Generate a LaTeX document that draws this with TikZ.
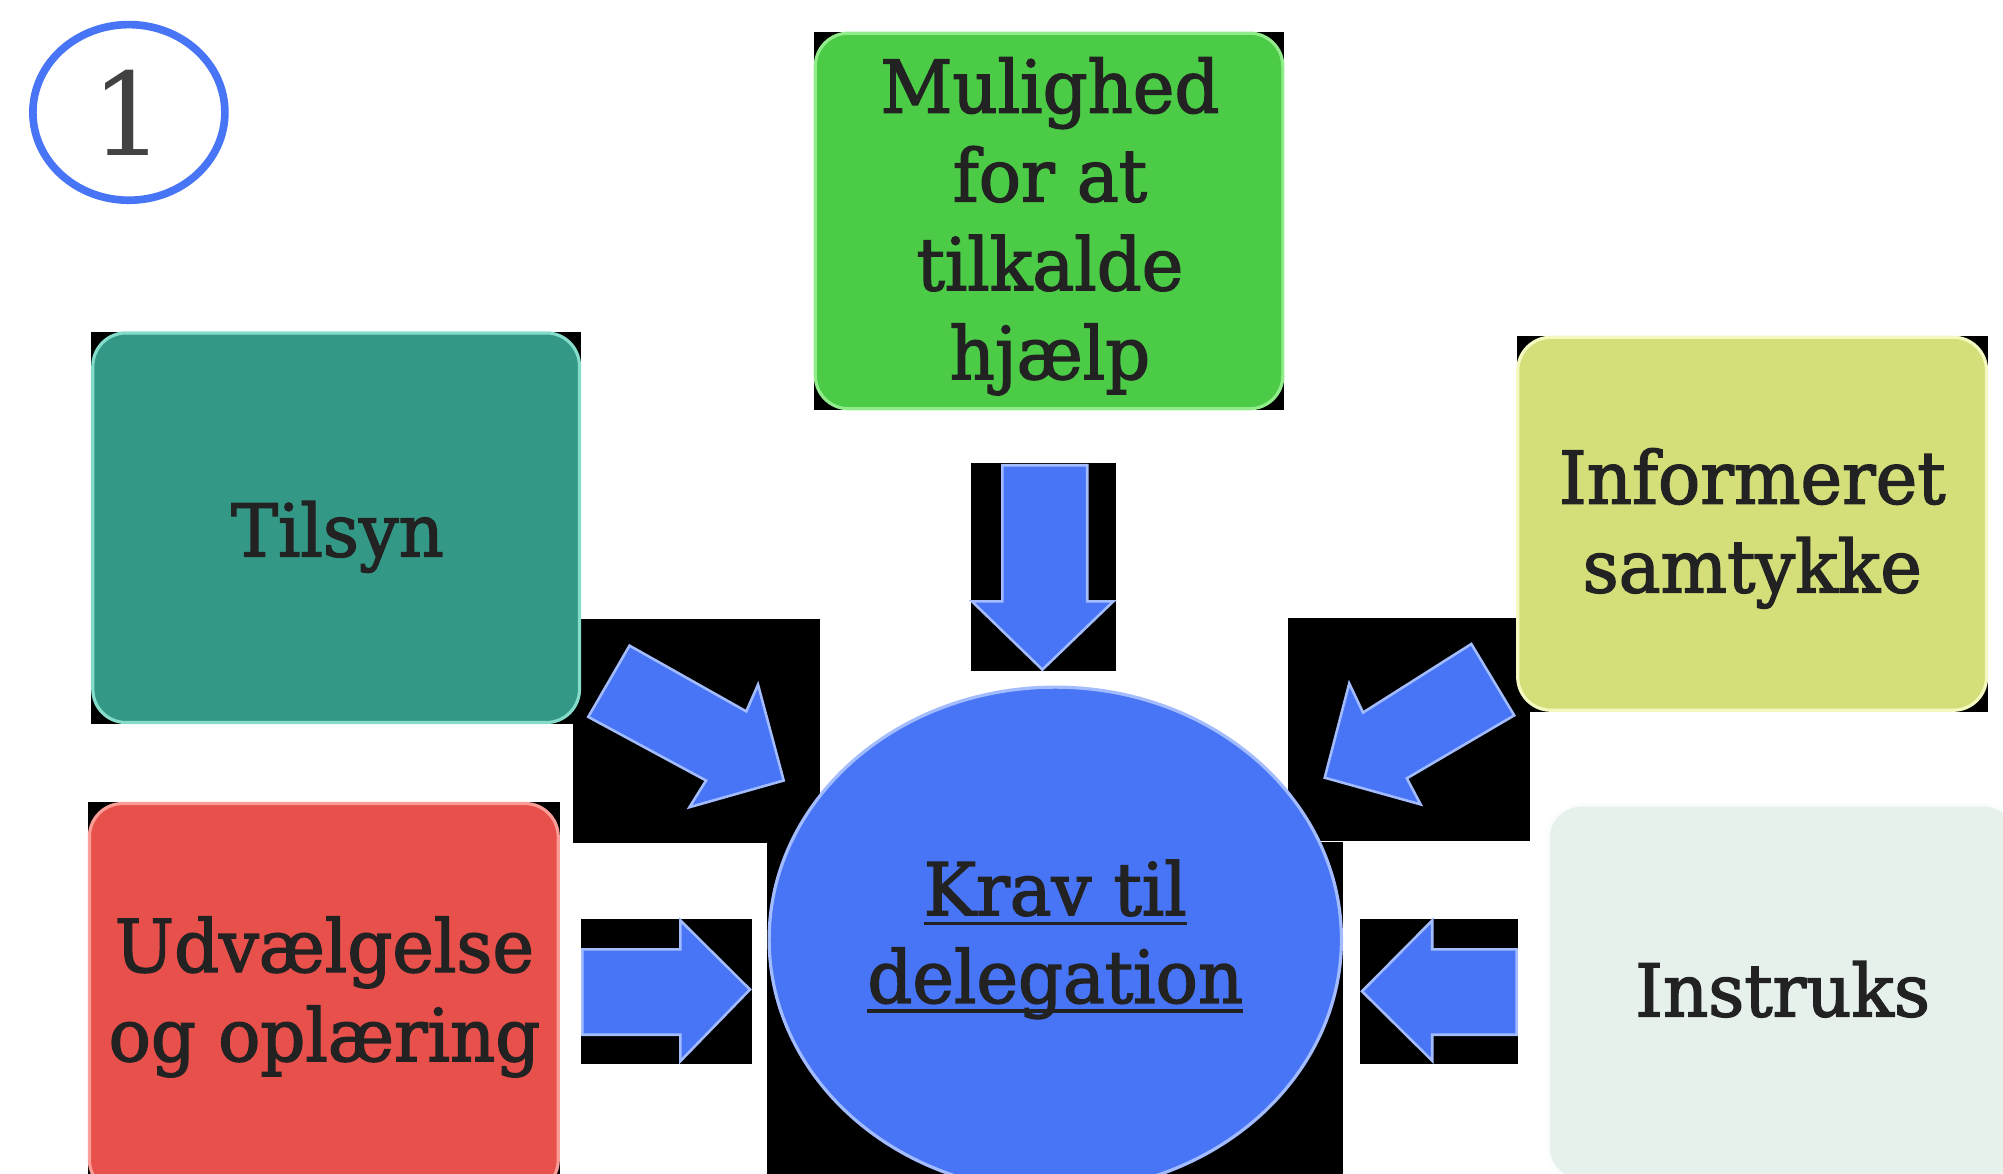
\documentclass[tikz,border=0pt]{standalone}
\usepackage{fontspec}
\setmainfont{DejaVu Serif}
\newfontfamily\labelfont[FakeStretch=0.965,FakeBold=2]{DejaVu Serif}
\usetikzlibrary{shapes.geometric}
\definecolor{arrowblue}{HTML}{4875F5}
\definecolor{rimblue}{HTML}{A3BCFF}
\definecolor{boxgreen}{HTML}{4BCB46}
\definecolor{rimgreen}{HTML}{93EC8C}
\definecolor{boxteal}{HTML}{339886}
\definecolor{rimteal}{HTML}{86DCCB}
\definecolor{boxolive}{HTML}{D4DF7A}
\definecolor{rimolive}{HTML}{F4F9C0}
\definecolor{boxred}{HTML}{E8504B}
\definecolor{rimred}{HTML}{FA9D97}
\definecolor{boxpale}{HTML}{E7F1EB}
\definecolor{rimpale}{HTML}{FBFDFC}
\definecolor{txt}{HTML}{222222}
\definecolor{numgray}{HTML}{424242}
\newcommand\myul[1]{\setbox0=\hbox{#1}\leavevmode\rlap{\rule[-7.7pt]{\wd0}{2.6pt}}\copy0}
\begin{document}
\begin{tikzpicture}[x=1pt,y=-1pt,
  backing/.style={fill=black},
  card/.style={rectangle, rounded corners=26pt, inner sep=0pt, outer sep=0pt, line width=2.5pt},
  label/.style={text=txt, inner sep=0pt, align=center, font=\labelfont\fontsize{57}{69.5}\selectfont},
  blockarrow/.style={fill=arrowblue, draw=rimblue, line width=2pt, line join=miter}]
\useasboundingbox (0,0) rectangle (1568,919);
\clip (0,0) rectangle (1568,919);
\fill[white] (0,0) rectangle (1568,919);

% black backing rectangles
\fill[backing] (637.2,25.1) rectangle (1005.3,320.8);
\fill[backing] (760.2,362.4) rectangle (873.6,525.3);
\fill[backing] (71.3,259.7) rectangle (455,566.5);
\fill[backing] (448.7,484.3) rectangle (641.9,660);
\fill[backing] (1008.3,484) rectangle (1197.7,658.2);
\fill[backing] (600.7,659) rectangle (1051.5,919);
\fill[backing] (455,719.2) rectangle (589,832.7);
\fill[backing] (1064.5,719.2) rectangle (1188.3,832.6);
\fill[backing] (1187.2,263) rectangle (1556,557);
\fill[backing] (69,628) rectangle (438,919);

% number badge
\node[ellipse, draw=arrowblue, line width=6pt, minimum width=150.3pt, minimum height=137.5pt, inner sep=0pt,
      text=numgray, font=\fontsize{90}{100}\selectfont] (badge) at (100.9,88) {\kern-1pt 1};

% boxes
\node[card, fill=boxgreen, draw=rimgreen, minimum width=366pt, minimum height=294pt] (help) at (821.25,172.95) {};
\node[card, fill=boxteal, draw=rimteal, minimum width=381pt, minimum height=305pt] (tilsyn) at (263.15,413.1) {};
\node[card, fill=boxolive, draw=rimolive, minimum width=367pt, minimum height=292pt] (info) at (1371.6,410) {};
\node[card, fill=boxred, draw=rimred, minimum width=367pt, minimum height=305pt] (udv) at (253.5,781.5) {};
\node[card, fill=boxpale, draw=rimpale, minimum width=367pt, minimum height=294pt] (instr) at (1395.4,777) {};

% centre
\node[ellipse, fill=arrowblue, draw=rimblue, line width=2.5pt, minimum width=448pt, minimum height=395pt, inner sep=0pt,
      text=txt, align=center, font=\labelfont\fontsize{57}{68.6}\selectfont] (krav) at (826.1,735.4)
      {\myul{Krav til}\\\myul{delegation}};

% texts
\node[label, anchor=north] (helptxt) at (821.9,44.7) {Mulighed\\for at\\tilkalde\\hjælp};
\node[label, anchor=base] (tilsyntxt) at (264.2,435.6) {Tilsyn};
\node[label, anchor=north] (infotxt) at (1371.7,350.7) {Informeret\\samtykke};
\node[label, anchor=north, font=\labelfont\fontsize{57}{69.7}\selectfont] (udvtxt) at (254,717.4) {Udvælgelse\\og oplæring};
\node[label, anchor=base] (instrtxt) at (1395.5,795.6) {Instruks};

% block arrows
\draw[blockarrow] (784.6,364.2) -- (851.1,364.2) -- (851.1,470.7) -- (871.6,470.7) -- (816,524.2)
  -- (760.8,470.7) -- (784.6,470.7) -- cycle;
\draw[blockarrow] (455.9,743.2) -- (532.6,743.2) -- (532.6,720.5) -- (587.1,774.6) -- (532.6,830.7)
  -- (532.6,810) -- (455.9,810) -- cycle;
\draw[blockarrow] (1187.2,743.2) -- (1121.2,743.2) -- (1121.2,720.5) -- (1066.2,776) -- (1121.2,830.4)
  -- (1121.2,810) -- (1187.2,810) -- cycle;
\draw[blockarrow] (492.8,505.4) -- (584.2,556.9) -- (593.4,535.9) -- (613.5,611) -- (539.7,631.9)
  -- (552.7,611) -- (460.5,561.2) -- cycle;
\draw[blockarrow] (1151.8,504.1) -- (1067,557.8) -- (1056.2,535) -- (1037,608.8) -- (1112.1,629.7)
  -- (1101.3,609.3) -- (1185.4,560) -- cycle;
\end{tikzpicture}
\end{document}
